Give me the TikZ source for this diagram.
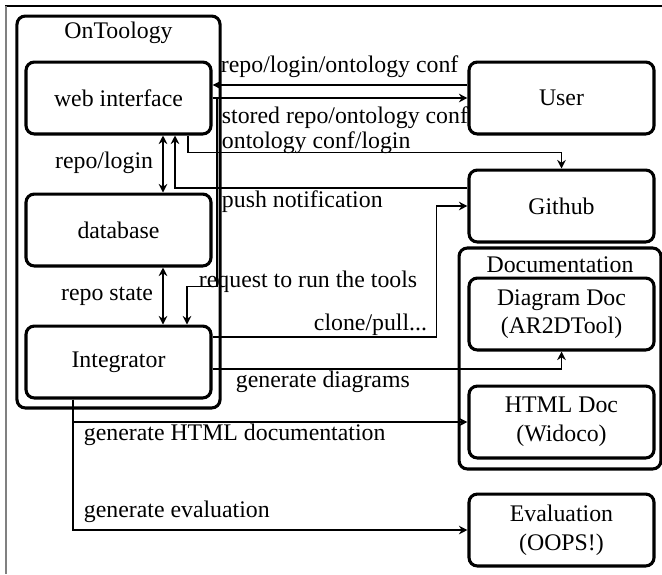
\documentclass[tikz,border=0pt]{standalone}
\usepackage{fontspec}
\setmainfont{Liberation Serif}
\usetikzlibrary{calc, arrows.meta}

\begin{document}
\begin{tikzpicture}[
            x = 0.42pt, y = 0.42pt,
            line width = 0.8pt,
            >={Stealth[length = 3.6pt, width = 3.6pt, inset = 1.2pt]},
            block/.style = {
                draw, rounded corners = 3.5pt,
                line width = 1.3pt,
                align = center,
                minimum width = 77.7pt,
                minimum height = 30.2pt,
            },
            group/.style = {
                draw, rounded corners = 3.5pt,
                line width = 1.3pt,
            },
            left column/.style = {block, node distance = 55.44pt},
            right column/.style = {block, node distance = 45.36pt},
            tag/.style = {inner sep = 0pt},
        ]
        \useasboundingbox (0,0) rectangle (662,-574);

        % Rand
        \draw[line width = 0.6pt] (5,-6) -- (662,-6);
        \draw[gray, line width = 0.6pt] (6,-6) -- (6,-574);

        % Groepen
        \node[group, minimum width = 85.3pt, minimum height = 164.6pt] (ontoology) at (118.5,-212) {};
        \node[below, inner sep = 2.9pt] (ontoology_title) at (ontoology.north) {OnToology};
        \node[group, minimum width = 84.8pt, minimum height = 92.8pt] (documentation) at (560,-358.5) {};
        \node[below, inner sep = 3.8pt] (documentation_title) at (documentation.north) {Documentation};

        % Blokken
        \node[left column] (web) at (118.5,-98) {web interface};
        \node[left column, below of = web] (database) {database};
        \node[left column, below of = database] (integrator) {Integrator};

        \node[right column] (user) at (561.5,-98) {User};
        \node[right column, below of = user] (github) {Github};
        \node[right column, below of = github] (diagram_doc) {Diagram Doc\\(AR2DTool)};
        \node[right column, below of = diagram_doc] (html_doc) {HTML Doc\\(Widoco)};
        \node[right column, below of = html_doc] (evaluation) {Evaluation\\(OOPS!)};

        % Verbindingen
        \draw[->] ($(user.west)+(0,13)$) -- ($(web.east)+(0,13)$);
        \draw[->] (web.east) -- (user.west);
        \draw[->] ($(web.south)+(69.5,0)$) |- ($(github.north)+(0,16)$) -- (github.north);
        \draw[->] ($(github.west)+(0,18)$) -| ($(web.south)+(56.5,0)$);
        \draw[<->] ($(web.south)+(44.5,0)$) -- ($(database.north)+(44.5,0)$);
        \draw[<->] ($(database.south)+(44.5,0)$) -- ($(integrator.north)+(44.5,0)$);
        \draw[->] (web.east) -- ++(4,0) |- ($(integrator.north)+(68.5,38)$) -- ($(integrator.north)+(68.5,0)$);
        \draw[->] ($(integrator.east)+(0,25)$) -| ($(github.west)+(-31,0)$) -- (github.west);
        \draw[->] ($(integrator.east)+(0,-7)$) -| (diagram_doc.south);
        \draw[->] ($(integrator.south)+(-45.5,0)$) |- (html_doc.west);
        \draw[->] ($(integrator.south)+(-45.5,0)$) |- (evaluation.west);

        % Labels
        \node[tag, anchor = base west] (lbl_conf) at (220,-72) {repo/login/ontology conf};
        \node[tag, anchor = base west] (lbl_stored) at (221,-123) {stored repo/ontology conf};
        \node[tag, anchor = base west] (lbl_login) at (221,-148) {ontology conf/login};
        \node[tag, anchor = base west] (lbl_push) at (221,-207) {push notification};
        \node[tag, anchor = base east] (lbl_repo) at (154,-168) {repo/login};
        \node[tag, anchor = base east] (lbl_state) at (154,-300) {repo state};
        \node[tag, anchor = base west] (lbl_request) at (198,-287) {request to run the tools};
        \node[tag, anchor = base east] (lbl_clone) at (428,-330) {clone/pull...};
        \node[tag, anchor = base west] (lbl_diagrams) at (235,-387) {generate diagrams};
        \node[tag, anchor = base west] (lbl_html) at (83,-440) {generate HTML documentation};
        \node[tag, anchor = base west] (lbl_eval) at (83,-517) {generate evaluation};
    \end{tikzpicture}
\end{document}
